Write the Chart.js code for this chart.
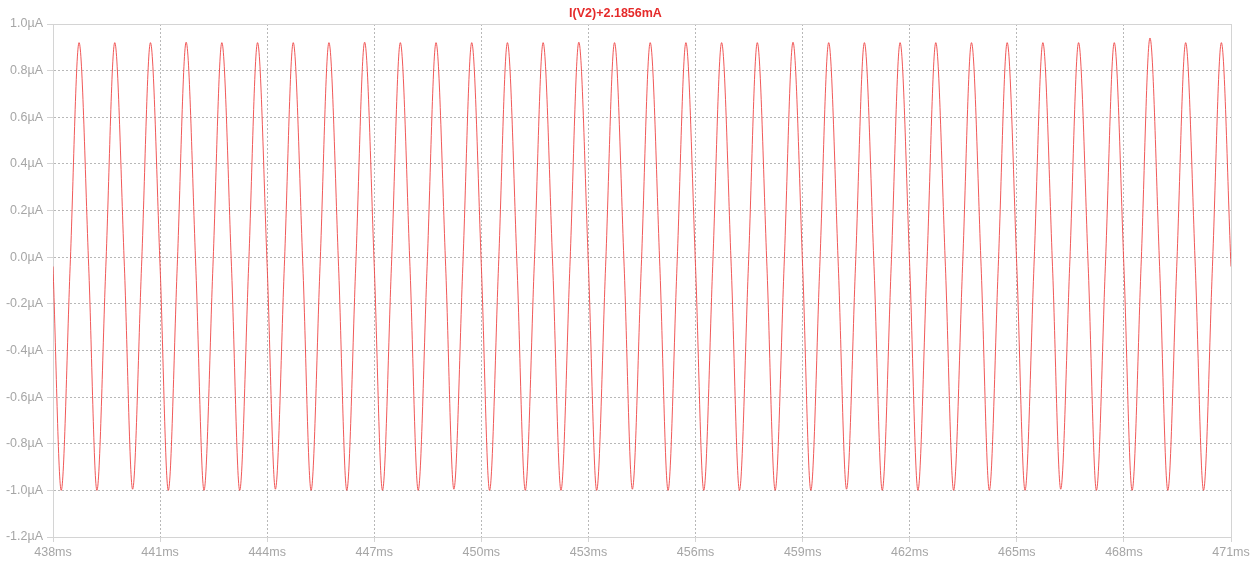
<!DOCTYPE html>
<html>
<head>
<meta charset="utf-8">
<script src="https://cdn.jsdelivr.net/npm/chart.js@4.4.1/dist/chart.umd.min.js"></script>
<style>
  body { margin: 0; background: #fff; }
  canvas { display: block; }
</style>
</head>
<body>
<canvas id="mycanvas" width="1258" height="562"></canvas>
<script>
// trace: per cycle a falling mid crossing, trough, rising mid crossing, peak
let traceLabel = 'I(V2)+2.1856mA';
let midValue = -0.04;
let fallTimes = [438.00, 439.00, 440.00, 441.00, 442.00, 443.00, 444.00, 445.00, 446.00, 447.00, 448.00,
    449.00, 450.00, 451.00, 452.00, 453.00, 454.00, 455.00, 456.00, 457.00, 458.00, 459.00, 460.00,
    461.00, 462.00, 463.00, 464.00, 465.00, 466.00, 467.00, 468.00, 469.00, 470.00, 471.00];
let troughTimes = [438.23, 439.23, 440.23, 441.23, 442.23, 443.23, 444.23, 445.23, 446.23, 447.23, 448.23,
    449.23, 450.23, 451.23, 452.23, 453.23, 454.23, 455.23, 456.23, 457.23, 458.23, 459.23, 460.23,
    461.23, 462.23, 463.23, 464.23, 465.23, 466.23, 467.23, 468.23, 469.23, 470.23];
let troughValues = [-1.0, -1.0, -0.995, -1.0, -1.0, -1.0, -0.995, -1.0, -1.0, -1.0, -1.0,
    -0.995, -1.0, -1.0, -1.0, -1.0, -0.995, -1.0, -1.0, -1.0, -1.0, -1.0, -0.995,
    -1.0, -1.0, -1.0, -1.0, -1.0, -0.995, -1.0, -1.0, -1.0, -1.0];
let riseTimes = [438.48, 439.48, 440.48, 441.48, 442.48, 443.48, 444.48, 445.48, 446.48, 447.48, 448.48,
    449.48, 450.48, 451.48, 452.48, 453.48, 454.48, 455.48, 456.48, 457.48, 458.48, 459.48, 460.48,
    461.48, 462.48, 463.48, 464.48, 465.48, 466.48, 467.48, 468.48, 469.48, 470.48];
let peakTimes = [438.73, 439.73, 440.73, 441.73, 442.73, 443.73, 444.73, 445.73, 446.73, 447.73, 448.73,
    449.73, 450.73, 451.73, 452.73, 453.73, 454.73, 455.73, 456.73, 457.73, 458.73, 459.73, 460.73,
    461.73, 462.73, 463.73, 464.73, 465.73, 466.73, 467.73, 468.73, 469.73, 470.73];
let peakValues = [0.92, 0.92, 0.92, 0.922, 0.92, 0.92, 0.92, 0.92, 0.922, 0.92, 0.92,
    0.92, 0.92, 0.92, 0.922, 0.92, 0.92, 0.92, 0.92, 0.92, 0.922, 0.92, 0.92,
    0.92, 0.92, 0.92, 0.92, 0.92, 0.92, 0.92, 0.94, 0.92, 0.92];

let xMin = 438, xMax = 471, xStep = 3;
let yMin = -1.2, yMax = 1.0, yStep = 0.2;

let points = [];
for (let i = 0; i < peakTimes.length; i++) {
    points.push({x: fallTimes[i], y: midValue});
    points.push({x: troughTimes[i], y: troughValues[i]});
    points.push({x: riseTimes[i], y: midValue});
    points.push({x: peakTimes[i], y: peakValues[i]});
}
points.push({x: fallTimes[fallTimes.length - 1], y: midValue});

let gridColor = '#b8b8b8';
let frameColor = '#d4d4d4';
let tickFont = {family: 'Arial, "Liberation Sans", sans-serif', size: 12.5};

let framePlugin = {
    id: 'frame',
    beforeDatasetsDraw(chart) {
        let a = chart.chartArea;
        let ctx = chart.ctx;
        ctx.save();
        ctx.strokeStyle = frameColor;
        ctx.lineWidth = 1;
        ctx.setLineDash([]);
        ctx.strokeRect(Math.round(a.left) + 0.5, Math.round(a.top) + 0.5,
            Math.round(a.right - a.left), Math.round(a.bottom - a.top));
        ctx.restore();
    }
};

let ctx = document.getElementById('mycanvas');

let LineGraph = new Chart(ctx, {
    type: 'line',
    data: {
        datasets: [{
            label: traceLabel,
            data: points,
            borderColor: 'rgba(238, 70, 70, 0.9)',
            borderWidth: 1,
            pointRadius: 0,
            fill: false,
            cubicInterpolationMode: 'monotone'
        }]
    },
    options: {
        responsive: false,
        animation: false,
        layout: {padding: {left: 0, right: 27, top: 0, bottom: 0}},
        plugins: {
            legend: {display: false},
            tooltip: {enabled: false},
            title: {
                display: true,
                text: traceLabel,
                color: '#e52a2a',
                font: {family: 'Arial, "Liberation Sans", sans-serif', size: 12.5, weight: 'bold'},
                padding: {top: 6, bottom: 3}
            }
        },
        scales: {
            x: {
                type: 'linear',
                min: xMin,
                max: xMax,
                afterFit(scale) { scale.height = 25; },
                ticks: {
                    stepSize: xStep,
                    color: '#a6a6a6',
                    font: tickFont,
                    padding: 3,
                    maxRotation: 0,
                    callback: v => v + 'ms'
                },
                grid: {color: gridColor, tickColor: frameColor, tickLength: 5, tickBorderDash: [1, 0]},
                border: {color: frameColor, dash: [2, 2]}
            },
            y: {
                min: yMin,
                max: yMax,
                afterFit(scale) { scale.width = 53; },
                ticks: {
                    stepSize: yStep,
                    color: '#a6a6a6',
                    font: tickFont,
                    padding: 4,
                    callback: v => v.toFixed(1) + 'µA'
                },
                grid: {color: gridColor, tickColor: frameColor, tickLength: 6, tickBorderDash: [1, 0]},
                border: {color: frameColor, dash: [2, 2]}
            }
        }
    },
    plugins: [framePlugin]
});
</script>
</body>
</html>
